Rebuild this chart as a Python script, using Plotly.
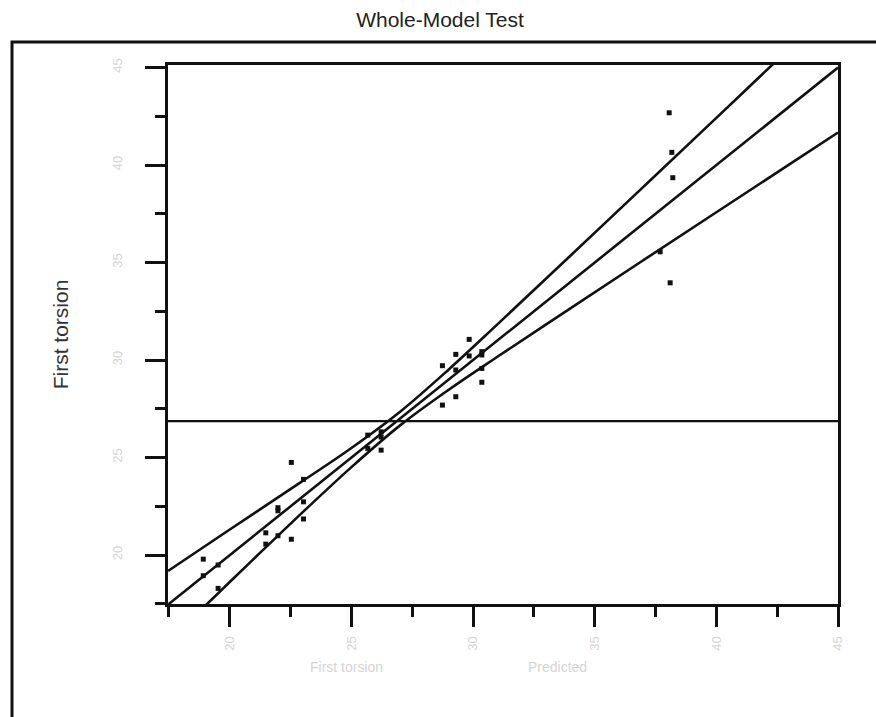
import plotly.graph_objects as go

# ---- data ----
predicted = [18.91, 18.91, 19.52, 19.52, 21.48, 21.48, 21.98, 21.98, 21.98, 22.53,
             22.53, 23.03, 23.03, 23.03, 25.67, 25.67, 26.22, 26.22, 26.22, 28.74,
             28.74, 29.29, 29.29, 29.29, 29.84, 29.84, 30.36, 30.36, 30.36, 30.36,
             37.69, 38.06, 38.17, 38.21, 38.10]
actual = [19.79, 18.94, 19.49, 18.29, 21.14, 20.56, 22.43, 22.27, 20.99, 24.75,
          20.81, 22.73, 21.85, 23.88, 26.15, 25.47, 26.32, 26.05, 25.38, 29.71,
          27.69, 30.29, 29.49, 28.12, 31.06, 30.21, 30.43, 30.26, 29.57, 28.86,
          35.55, 42.68, 40.65, 39.35, 33.96]

mean_response = 26.87

band_x = [17.46, 20, 23, 25, 27, 29, 31, 34, 37, 40, 43, 45]
band_upper = [19.18, 21.31, 23.80, 25.49, 27.35, 29.52, 31.83, 35.35, 38.88, 42.42, 45.97, 48.33]
band_lower = [15.55, 18.62, 22.20, 24.51, 26.65, 28.48, 30.17, 32.65, 35.12, 37.58, 40.03, 41.67]

x_range = [17.46, 45.0]
y_range = [17.49, 45.13]
tick_vals = [20, 25, 30, 35, 40, 45]
tick_text = ["20", "25", "30", "35", "40", "45"]

faint = "#d4d4d4"
black = "#111111"

fig = go.Figure()

# confidence curves
for yy in (band_upper, band_lower):
    fig.add_trace(go.Scatter(x=band_x, y=yy, mode="lines",
                             line=dict(color=black, width=2.6, shape="spline"),
                             hoverinfo="skip", showlegend=False))

# fit line (leverage plot: slope 1)
fig.add_trace(go.Scatter(x=x_range, y=x_range, mode="lines",
                         line=dict(color=black, width=2.6), showlegend=False))

# mean line
fig.add_trace(go.Scatter(x=x_range, y=[mean_response, mean_response], mode="lines",
                         line=dict(color=black, width=2.2), showlegend=False))

# points
fig.add_trace(go.Scatter(x=predicted, y=actual, mode="markers",
                         marker=dict(symbol="square", size=5, color=black),
                         showlegend=False))

axis_common = dict(
    showgrid=False, zeroline=False,
    showline=True, linecolor=black, linewidth=3, mirror=True,
    ticks="outside", ticklen=20, tickwidth=3, tickcolor=black,
    tickvals=tick_vals, ticktext=tick_text,
    tickfont=dict(family="Liberation Sans, Arial", size=13, color=faint),
    minor=dict(ticks="outside", ticklen=10, tickwidth=3, tickcolor=black, dtick=2.5, tick0=17.5),
)

fig.update_xaxes(range=x_range, tickangle=-90, ticklabelstandoff=4, **axis_common)
fig.update_yaxes(range=y_range, tickangle=-90, ticklabelstandoff=18,
                 title=dict(text="First torsion", standoff=36,
                            font=dict(family="Liberation Sans, Arial", size=21, color="#333333")),
                 **axis_common)

W, H = 876, 717
L, R, T, B = 168, 38, 65, 113
pw, ph = W - L - R, H - T - B

def px(x):
    return (x - L) / pw

def py(y):
    return (H - B - y) / ph

fig.add_shape(type="rect", xref="paper", yref="paper",
              x0=px(12), x1=px(900), y0=py(740), y1=py(42),
              line=dict(color=black, width=3))

fig.add_annotation(text="First torsion", xref="paper", yref="paper",
                   x=px(308), y=py(677), showarrow=False,
                   font=dict(family="Liberation Sans, Arial", size=14, color=faint))
fig.add_annotation(text="Predicted", xref="paper", yref="paper",
                   x=px(557), y=py(677), showarrow=False,
                   font=dict(family="Liberation Sans, Arial", size=14, color=faint))

fig.update_layout(
    width=W, height=H,
    margin=dict(l=L, r=R, t=T, b=B),
    paper_bgcolor="white", plot_bgcolor="white",
    title=dict(text="Whole-Model Test", x=440 / W, xref="container",
               y=1 - 20 / H, yref="container", xanchor="center", yanchor="middle",
               font=dict(family="Liberation Sans, Arial", size=21, color="#222222")),
    showlegend=False,
)

fig.write_html("out.html")
